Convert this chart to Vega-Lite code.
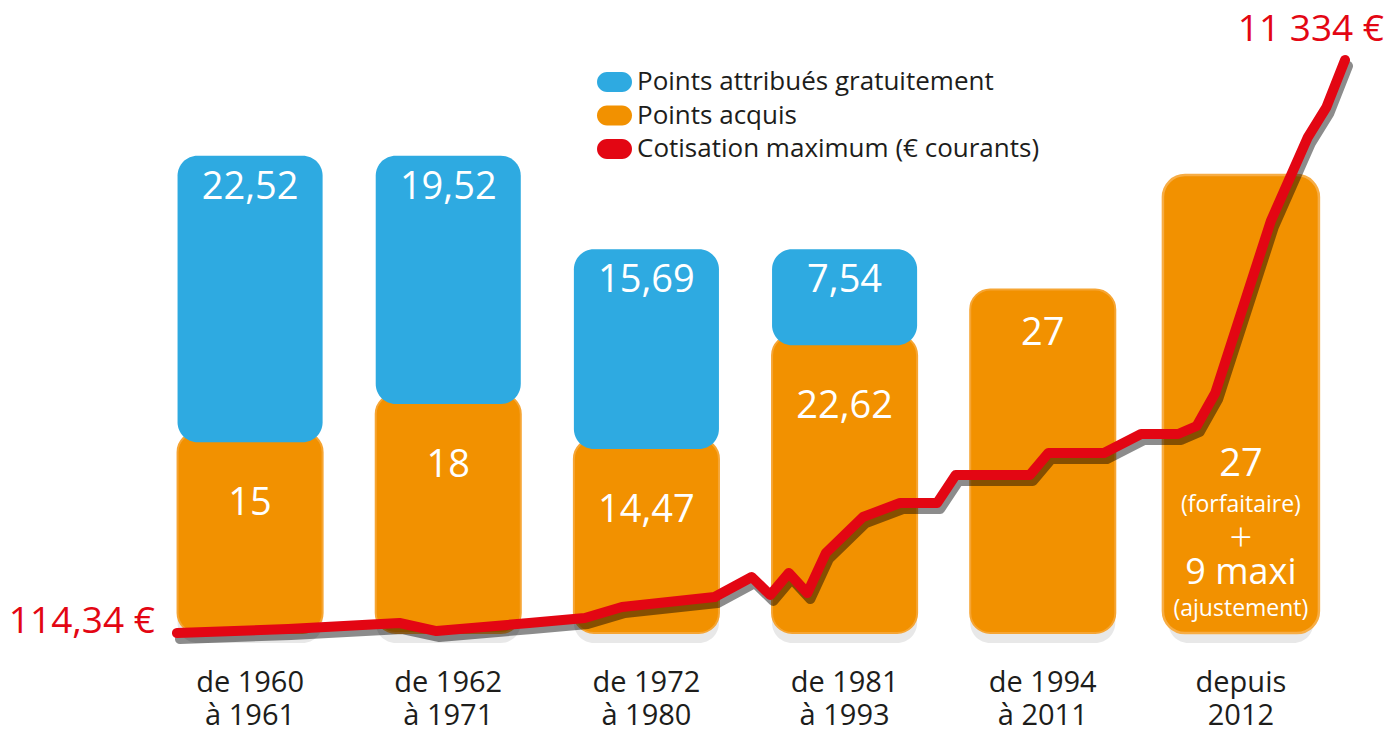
{
  "$schema": "https://vega.github.io/schema/vega-lite/v6.json",
  "width": 1189,
  "height": 613,
  "autosize": {"type": "none"},
  "padding": {"left": 151, "top": 20, "right": 49, "bottom": 99},
  "background": "white",
  "config": {"view": {"stroke": null}, "font": "Open Sans"},
  "datasets": {
    "barres": [
      {"periode": "de 1960\nà 1961", "serie": "Points acquis", "valeur": 15, "texte": "15"},
      {"periode": "de 1960\nà 1961", "serie": "Points attribués gratuitement", "valeur": 22.52, "texte": "22,52"},
      {"periode": "de 1962\nà 1971", "serie": "Points acquis", "valeur": 18, "texte": "18"},
      {"periode": "de 1962\nà 1971", "serie": "Points attribués gratuitement", "valeur": 19.52, "texte": "19,52"},
      {"periode": "de 1972\nà 1980", "serie": "Points acquis", "valeur": 14.47, "texte": "14,47"},
      {"periode": "de 1972\nà 1980", "serie": "Points attribués gratuitement", "valeur": 15.69, "texte": "15,69"},
      {"periode": "de 1981\nà 1993", "serie": "Points acquis", "valeur": 22.62, "texte": "22,62"},
      {"periode": "de 1981\nà 1993", "serie": "Points attribués gratuitement", "valeur": 7.54, "texte": "7,54"},
      {"periode": "de 1994\nà 2011", "serie": "Points acquis", "valeur": 27, "texte": "27"},
      {"periode": "depuis\n2012", "serie": "Points acquis", "valeur": 36, "texte": "27", "detail": "(forfaitaire)", "signe": "+", "texte2": "9 maxi", "detail2": "(ajustement)"}
    ],
    "cotisation": [
      {"annee": 1960, "montant": 114.34, "etiquette": "114,34 €"},
      {"annee": 1966, "montant": 193},
      {"annee": 1972, "montant": 310},
      {"annee": 1974, "montant": 153},
      {"annee": 1979, "montant": 310},
      {"annee": 1982, "montant": 408},
      {"annee": 1984, "montant": 623},
      {"annee": 1989, "montant": 819},
      {"annee": 1991, "montant": 1211},
      {"annee": 1992, "montant": 858},
      {"annee": 1993, "montant": 1289},
      {"annee": 1994, "montant": 897},
      {"annee": 1995, "montant": 1681},
      {"annee": 1997, "montant": 2386},
      {"annee": 1999, "montant": 2660},
      {"annee": 2001, "montant": 2660},
      {"annee": 2002, "montant": 3208},
      {"annee": 2006, "montant": 3208},
      {"annee": 2007, "montant": 3639},
      {"annee": 2010, "montant": 3639},
      {"annee": 2012, "montant": 4011},
      {"annee": 2014, "montant": 4011},
      {"annee": 2015, "montant": 4167},
      {"annee": 2016, "montant": 4813},
      {"annee": 2019, "montant": 8181},
      {"annee": 2021, "montant": 9826},
      {"annee": 2022, "montant": 10413},
      {"annee": 2023, "montant": 11334, "etiquette": "11 334 €"}
    ]
  },
  "layer": [
    {
      "data": {"name": "barres"},
      "transform": [
        {"stack": "valeur", "groupby": ["periode"], "sort": [{"field": "serie", "order": "ascending"}], "as": ["bas", "haut"]},
        {"joinaggregate": [{"op": "count", "as": "nb"}], "groupby": ["periode"]}
      ],
      "encoding": {
        "x": {
          "field": "periode", "type": "nominal", "sort": null,
          "scale": {"paddingInner": 0.268, "paddingOuter": 0.134},
          "axis": {
            "title": null, "domain": false, "ticks": false, "tickSize": 0, "grid": false,
            "labelPadding": 35, "labelFontSize": 29, "labelFont": "Open Sans", "labelColor": "#1d1d1b",
            "labelLineHeight": 33, "labelAngle": 0, "labelBaseline": "top",
            "labelExpr": "split(datum.label, '\\n')"
          }
        },
        "y": {"field": "haut", "type": "quantitative", "scale": {"domain": [0, 48.19], "nice": false, "zero": true}, "axis": null},
        "color": {
          "field": "serie", "type": "nominal",
          "scale": {
            "domain": ["Points attribués gratuitement", "Points acquis", "Cotisation maximum (€ courants)"],
            "range": ["#2eaae1", "#f29100", "#e30613"]
          },
          "legend": {
            "title": null, "orient": "none", "legendX": 450.5, "legendY": 49,
            "symbolType": "M-0.75,-1H0.75A1,1 0 0 1 0.75,1H-0.75A1,1 0 0 1 -0.75,-1Z",
            "symbolSize": 400, "symbolStrokeWidth": 0, "symbolOpacity": 1,
            "labelFontSize": 26, "labelFont": "Open Sans", "labelColor": "#1d1d1b",
            "labelLimit": 700, "labelOffset": 9.5, "rowPadding": 7.5, "padding": 0
          }
        }
      },
      "layer": [
        {
          "transform": [{"filter": "datum.serie == 'Points acquis'"}],
          "mark": {"type": "bar", "cornerRadius": 20, "yOffset": 10, "y2Offset": 10, "opacity": 0.09},
          "encoding": {"y2": {"field": "bas"}, "color": {"value": "#000000"}}
        },
        {
          "transform": [{"filter": "datum.serie == 'Points acquis' && datum.nb > 1"}],
          "mark": {"type": "bar", "cornerRadius": 20, "yOffset": -10, "stroke": "#f6a533", "strokeWidth": 2},
          "encoding": {"y2": {"field": "bas"}}
        },
        {
          "transform": [{"filter": "datum.serie == 'Points acquis' && datum.nb == 1 && !datum.detail"}],
          "mark": {"type": "bar", "cornerRadius": 20, "stroke": "#f6a533", "strokeWidth": 2},
          "encoding": {"y2": {"field": "bas"}}
        },
        {
          "transform": [{"filter": "datum.detail"}],
          "mark": {"type": "bar", "cornerRadius": 22, "width": 156, "stroke": "#f7ad45", "strokeWidth": 2.5},
          "encoding": {"y2": {"field": "bas"}}
        },
        {
          "transform": [{"filter": "datum.serie != 'Points acquis'"}],
          "mark": {"type": "bar", "cornerRadius": 20},
          "encoding": {"y2": {"field": "bas"}}
        },
        {
          "transform": [{"filter": "datum.serie != 'Points acquis'"}],
          "mark": {"type": "text", "baseline": "middle", "dy": 32, "fontSize": 38},
          "encoding": {"text": {"field": "texte"}, "color": {"value": "white"}}
        },
        {
          "transform": [{"filter": "datum.serie == 'Points acquis' && datum.nb > 1"}],
          "mark": {"type": "text", "baseline": "middle", "dy": 62, "fontSize": 38},
          "encoding": {"text": {"field": "texte"}, "color": {"value": "white"}}
        },
        {
          "transform": [{"filter": "datum.serie == 'Points acquis' && datum.nb == 1 && !datum.detail"}],
          "mark": {"type": "text", "baseline": "middle", "dy": 44, "fontSize": 38},
          "encoding": {"text": {"field": "texte"}, "color": {"value": "white"}}
        },
        {
          "transform": [{"filter": "datum.detail"}],
          "mark": {"type": "text", "baseline": "middle", "dy": -168, "fontSize": 38},
          "encoding": {"y": {"field": "bas", "type": "quantitative"}, "text": {"field": "texte"}, "color": {"value": "white"}}
        },
        {
          "transform": [{"filter": "datum.detail"}],
          "mark": {"type": "text", "baseline": "middle", "dy": -128, "fontSize": 23},
          "encoding": {"y": {"field": "bas", "type": "quantitative"}, "text": {"field": "detail"}, "color": {"value": "white"}}
        },
        {
          "transform": [{"filter": "datum.detail"}],
          "mark": {"type": "text", "baseline": "middle", "dy": -94, "fontSize": 40, "fontWeight": 300},
          "encoding": {"y": {"field": "bas", "type": "quantitative"}, "text": {"field": "signe"}, "color": {"value": "white"}}
        },
        {
          "transform": [{"filter": "datum.detail"}],
          "mark": {"type": "text", "baseline": "middle", "dy": -60, "fontSize": 36},
          "encoding": {"y": {"field": "bas", "type": "quantitative"}, "text": {"field": "texte2"}, "color": {"value": "white"}}
        },
        {
          "transform": [{"filter": "datum.detail"}],
          "mark": {"type": "text", "baseline": "middle", "dy": -24, "fontSize": 23},
          "encoding": {"y": {"field": "bas", "type": "quantitative"}, "text": {"field": "detail2"}, "color": {"value": "white"}}
        }
      ]
    },
    {
      "data": {"name": "cotisation"},
      "encoding": {
        "x": {"field": "annee", "type": "quantitative", "scale": {"domain": [1958.6, 2022.73], "nice": false, "zero": false}, "axis": null},
        "y": {"field": "montant", "type": "quantitative", "scale": {"domain": [114.34, 12117], "nice": false, "zero": false}, "axis": null}
      },
      "layer": [
        {
          "mark": {"type": "line", "color": "#000000", "opacity": 0.45, "strokeWidth": 10, "xOffset": 3, "yOffset": 6, "strokeCap": "round", "strokeJoin": "round"},
          "encoding": {}
        },
        {
          "mark": {"type": "line", "color": "#e30613", "strokeWidth": 10, "strokeCap": "round", "strokeJoin": "round"},
          "encoding": {}
        },
        {
          "transform": [{"filter": "datum.annee == 1960"}],
          "mark": {"type": "text", "align": "right", "baseline": "middle", "dx": -22, "dy": -11, "fontSize": 37, "color": "#e30613"},
          "encoding": {"text": {"field": "etiquette"}}
        },
        {
          "transform": [{"filter": "datum.annee == 2023"}],
          "mark": {"type": "text", "align": "right", "baseline": "middle", "dx": 39, "dy": -30, "fontSize": 37, "color": "#e30613"},
          "encoding": {"text": {"field": "etiquette"}}
        }
      ]
    }
  ],
  "resolve": {"scale": {"x": "independent", "y": "independent"}}
}
